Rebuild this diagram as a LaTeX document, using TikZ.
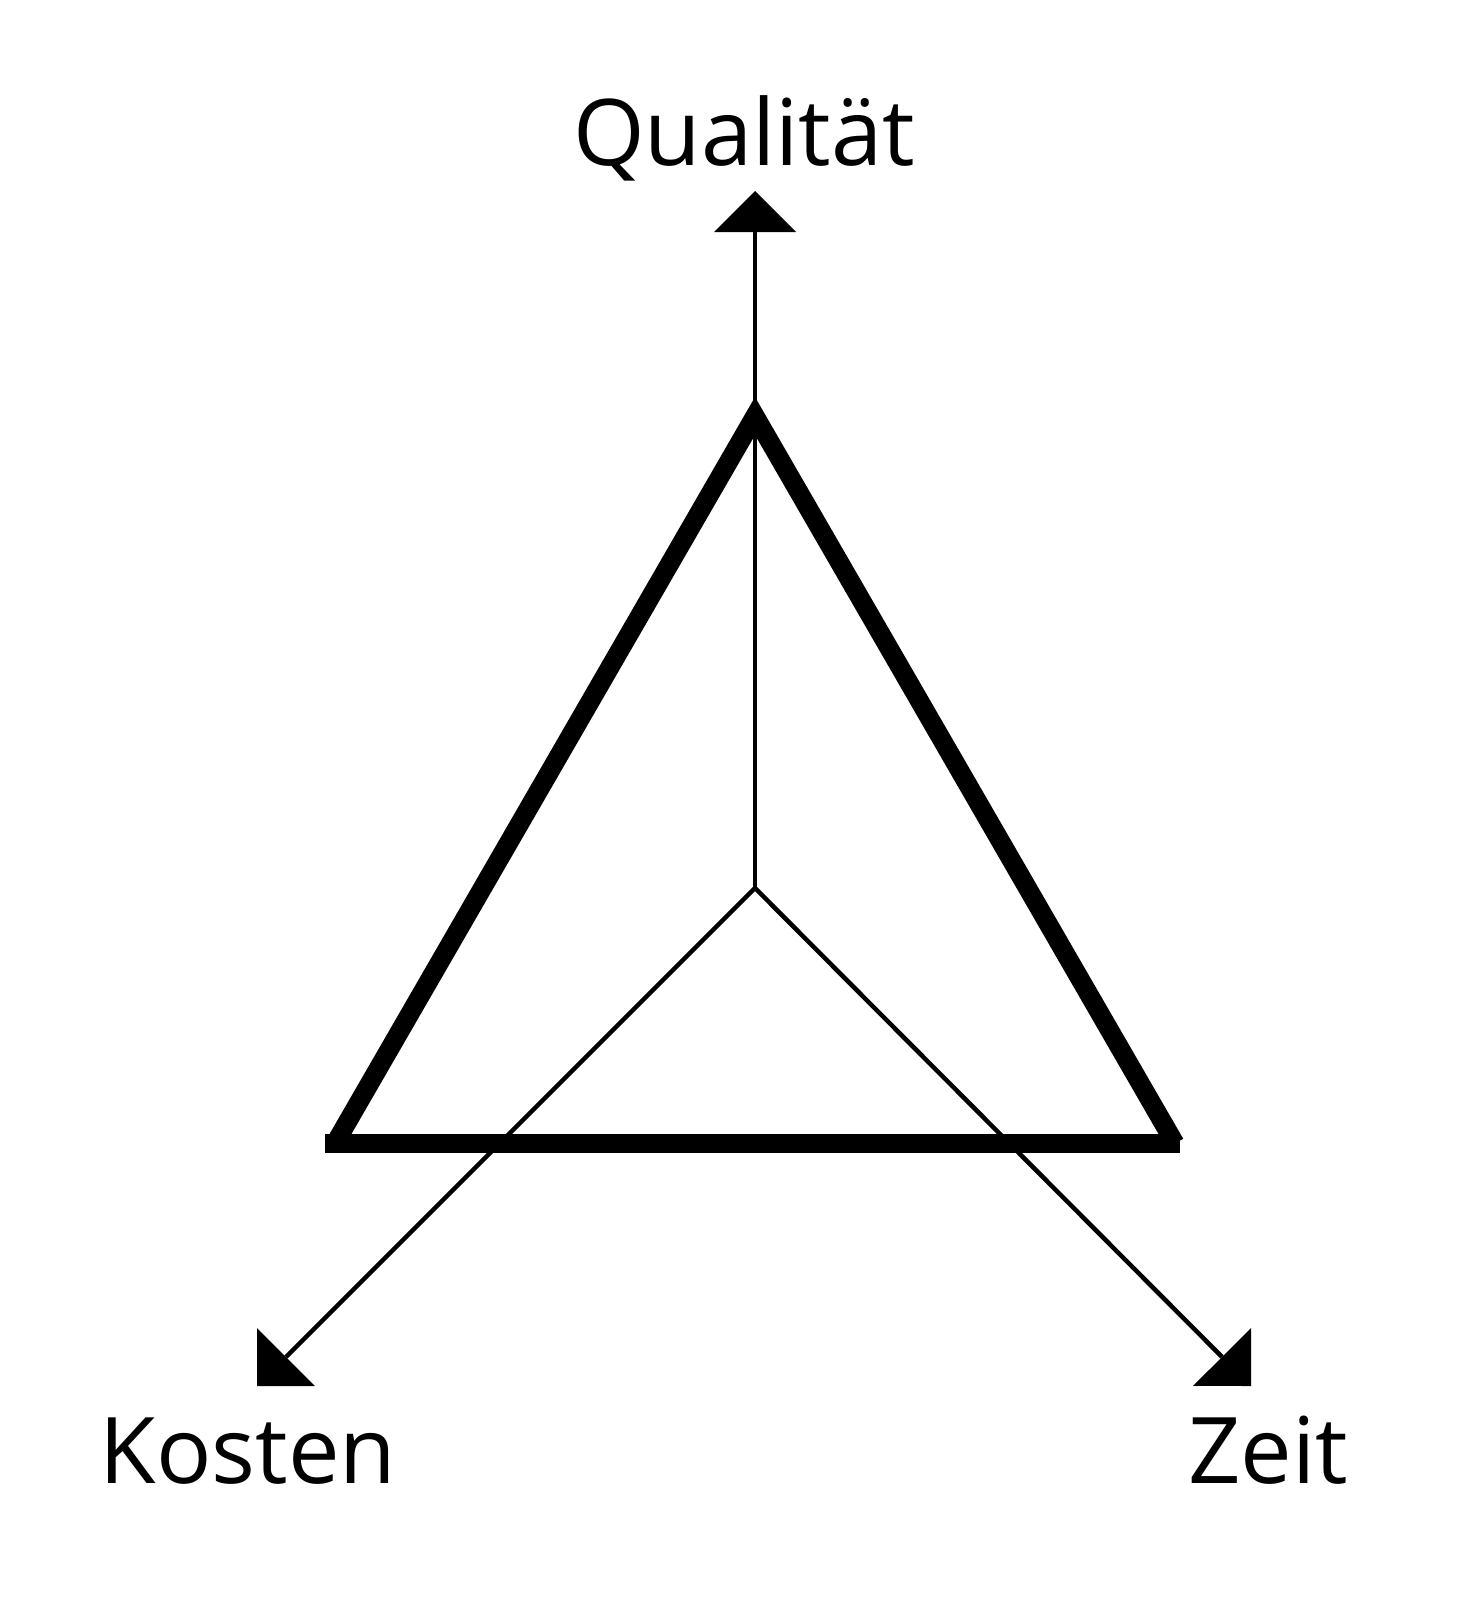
\documentclass[tikz,border=0pt]{standalone}
\usepackage{fontspec}
\setmainfont{Open Sans}
\usetikzlibrary{arrows.meta}
\begin{document}
\begin{tikzpicture}[x=1pt,y=-1pt,
  axis/.style={line width=4.5pt,-{Triangle[length=41pt,width=82pt,line width=0pt]}},
  heavy/.style={line width=19pt},
  lbl/.style={font=\fontsize{92}{110}\selectfont,anchor=base,inner sep=0pt}]
\fill[white] (0,0) rectangle (1465,1604);
\useasboundingbox (0,0) rectangle (1465,1604);
% points
\coordinate (O) at (755,888);
\coordinate (Q) at (755,191);
\coordinate (K) at (257,1386);
\coordinate (Z) at (1251,1386);
\coordinate (A) at (755,416);
\coordinate (BL) at (335,1143.5);
\coordinate (BR) at (1175,1143.5);
\coordinate (BLbar) at (325,1143.5);
\coordinate (BRbar) at (1180,1143.5);
% triangle
\draw[heavy,line join=miter] (BL) -- (A) -- (BR);
\draw[heavy] (BLbar) -- (BRbar);
% axes
\draw[axis] (O) -- (Q);
\draw[axis] (O) -- (K);
\draw[axis] (O) -- (Z);
% labels
\node[lbl] (lq) at (744,165) {Qualität};
\node[lbl] (lk) at (248,1483) {Kosten};
\node[lbl] (lz) at (1268,1483) {Zeit};
\end{tikzpicture}
\end{document}
